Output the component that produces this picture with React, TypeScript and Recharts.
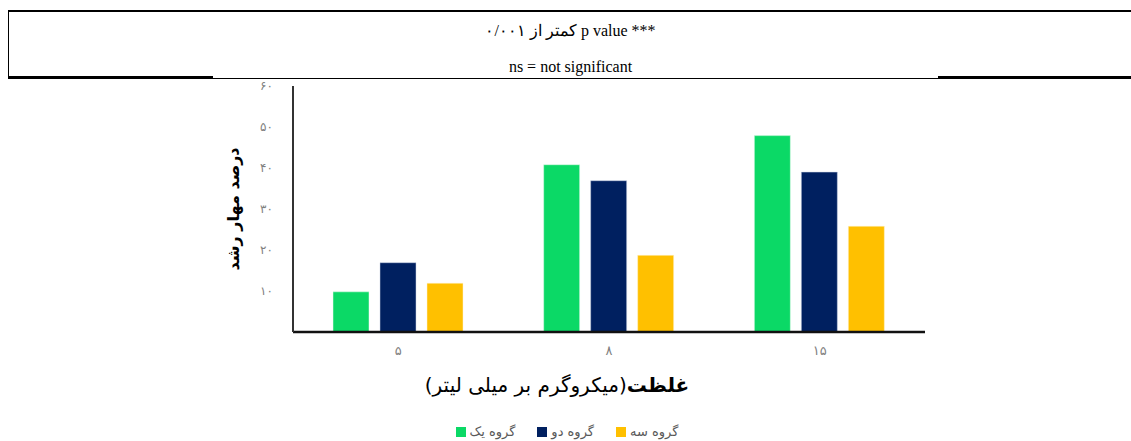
import React from 'react';
import { BarChart, Bar, XAxis, YAxis, Legend } from 'recharts';

const categories = ['۵', '۸', '۱۵'];
const groupOne = [9.8, 40.8, 47.9];
const groupTwo = [16.9, 36.9, 39.0];
const groupThree = [11.9, 18.7, 25.8];
const yTicks = [10, 20, 30, 40, 50, 60];
const seriesNames = ['گروه یک', 'گروه دو', 'گروه سه'];

const data = categories.map((c, i) => ({
  name: c,
  g1: groupOne[i],
  g2: groupTwo[i],
  g3: groupThree[i],
}));

const faDigits = '۰۱۲۳۴۵۶۷۸۹';
const toFa = (v: number | string) => String(v).replace(/\d/g, (d) => faDigits[Number(d)]);

const persianFont = '"DejaVu Sans", "Noto Sans", sans-serif';

function YTitle({ viewBox }: any) {
  const cx = viewBox.x + 23;
  const cy = viewBox.y + viewBox.height / 2;
  return (
    <text
      x={cx}
      y={cy}
      transform={`rotate(-90 ${cx} ${cy})`}
      textAnchor="middle"
      dominantBaseline="central"
      fontFamily={persianFont}
      fontWeight="bold"
      fontSize={16}
      fill="#000"
      style={{ direction: 'rtl' }}
    >
      درصد مهار رشد
    </text>
  );
}

function XTitle({ viewBox }: any) {
  const cx = viewBox.x + viewBox.width / 2 - 52;
  const cy = viewBox.y + 53;
  return (
    <text
      x={cx}
      y={cy}
      textAnchor="middle"
      dominantBaseline="central"
      fontFamily={persianFont}
      fontSize={20}
      fill="#000"
      style={{ direction: 'rtl' }}
    >
      <tspan fontWeight="bold">غلظت</tspan>
      <tspan>(میکروگرم بر میلی لیتر)</tspan>
    </text>
  );
}

export default function App() {
  return (
    <div style={{ position: 'absolute', left: 0, top: 0, width: 1131, height: 441, background: '#fff', overflow: 'hidden' }}>
      <div
        style={{
          position: 'absolute',
          left: 8,
          top: 10,
          width: 1130,
          height: 66,
          borderTop: '2px solid #000',
          borderLeft: '1px solid #000',
          borderBottom: '1px solid #000',
          fontFamily: '"Liberation Serif", "DejaVu Serif", serif',
          fontSize: 16,
          color: '#000',
          textAlign: 'center',
        }}
      >
        <div dir="rtl" style={{ position: 'absolute', left: 0, width: 1123, top: 9, lineHeight: '20px' }}>
          *** p value کمتر از ۰/۰۰۱
        </div>
        <div style={{ position: 'absolute', left: 0, width: 1123, top: 45, lineHeight: '20px' }}>
          ns = not significant
        </div>
      </div>
      <div style={{ position: 'absolute', left: 8, top: 76, width: 205, height: 2, background: '#000' }} />
      <div style={{ position: 'absolute', left: 938, top: 76, width: 193, height: 2, background: '#000' }} />
      <div style={{ position: 'absolute', left: 0, top: 0 }}>
        <BarChart
          width={1131}
          height={441}
          data={data}
          margin={{ top: 86, right: 206, bottom: 0, left: 210 }}
          barSize={36}
          barGap={11}
        >
          <XAxis
            dataKey="name"
            axisLine={{ stroke: '#111', strokeWidth: 2.5 }}
            tickLine={false}
            tickSize={6}
            tickMargin={8}
            tick={{ fill: '#7f7f7f', fontSize: 13, fontFamily: persianFont }}
            height={109}
            label={<XTitle />}
          />
          <YAxis
            domain={[0, 60]}
            ticks={yTicks}
            interval={0}
            width={83}
            axisLine={{ stroke: '#333', strokeWidth: 2 }}
            tickLine={false}
            tickSize={6}
            tickMargin={14}
            tickFormatter={(v) => toFa(v)}
            tick={{ fill: '#7f7f7f', fontSize: 12, fontFamily: persianFont }}
            label={<YTitle />}
          />
          <Legend
            verticalAlign="middle"
            layout="horizontal"
            align="center"
            itemSorter="dataKey"
            iconType="square"
            iconSize={10}
            wrapperStyle={{ left: 378, width: 400, top: 422, bottom: 'auto' }}
            formatter={(value) => (
              <span style={{ color: '#595959', fontSize: 13, fontFamily: persianFont, marginRight: 12 }}>{value}</span>
            )}
          />
          <Bar dataKey="g1" name={seriesNames[0]} fill="#0bd966" stroke="#e8fbef" strokeWidth={0.5} isAnimationActive={false} />
          <Bar dataKey="g2" name={seriesNames[1]} fill="#002060" stroke="#c9d2e3" strokeWidth={0.5} isAnimationActive={false} />
          <Bar dataKey="g3" name={seriesNames[2]} fill="#ffc000" stroke="#fff3cc" strokeWidth={0.5} isAnimationActive={false} />
        </BarChart>
      </div>
    </div>
  );
}
